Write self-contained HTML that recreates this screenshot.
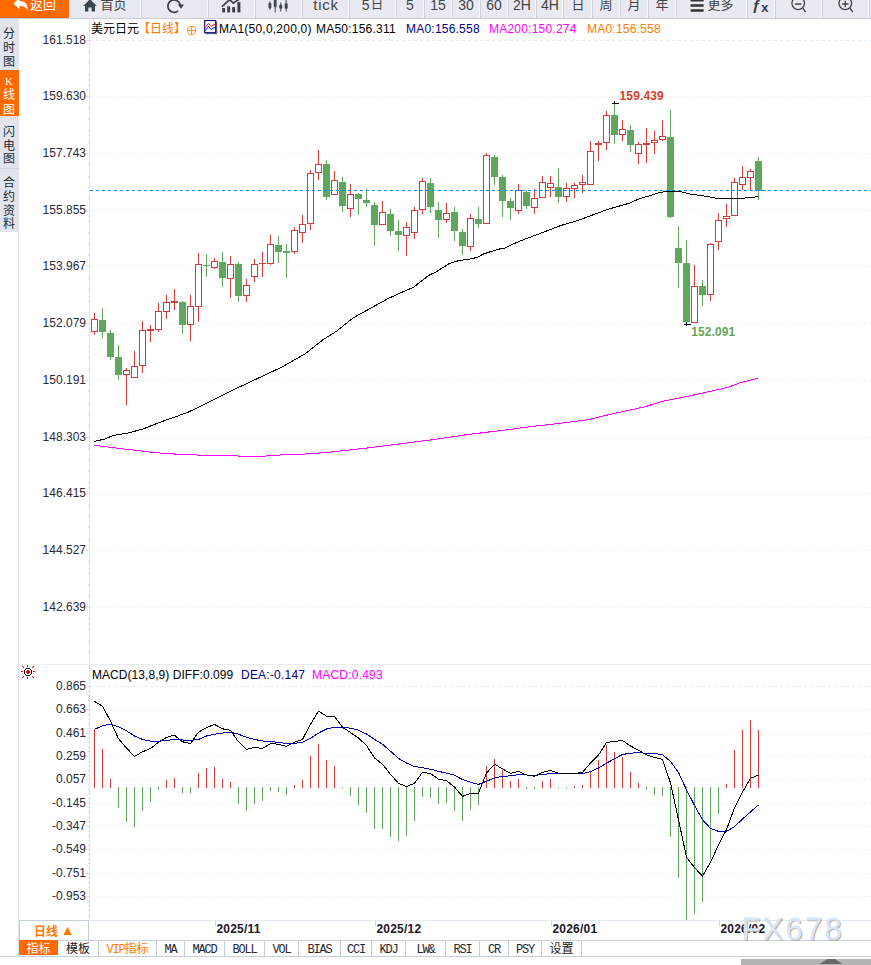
<!DOCTYPE html>
<html lang="zh-CN"><head><meta charset="utf-8"><title>美元日元 日线</title>
<style>
html,body{margin:0;padding:0;background:#fff;}
body{width:871px;height:965px;position:relative;overflow:hidden;font-family:"Liberation Sans","Noto Sans CJK SC",sans-serif;font-size:12px;color:#222;}
.abs{position:absolute;white-space:nowrap;}
.tb{position:absolute;left:0;top:0;width:871px;height:18px;background:#e9e9f1;overflow:hidden;border-bottom:1px solid #c9ccd4;}
.tb .sep{position:absolute;top:0;width:2px;height:18px;background:#f9f9fc;border-right:1px solid #cfd0da;box-sizing:border-box;}
.tb .t{position:absolute;top:-5px;height:20px;line-height:20px;font-size:14px;color:#444;text-align:center;white-space:nowrap;}
.yl{position:absolute;left:20px;width:66px;text-align:right;font-size:12px;line-height:14px;height:14px;color:#2a2a3a;}
.side{position:absolute;left:0;width:19px;padding-right:1px;text-align:center;font-size:12px;line-height:13.7px;color:#222b3a;background:#e2e4ec;font-family:"Liberation Serif","Noto Sans CJK SC",sans-serif;}
.side span{display:block;}
.info{position:absolute;top:21px;height:16px;line-height:16px;font-size:12px;white-space:nowrap;}
.ls{letter-spacing:0.22px;}
.tab{position:absolute;top:941px;height:15px;line-height:18px;font-size:12px;text-align:center;white-space:nowrap;font-family:"Liberation Mono","Noto Sans CJK SC",monospace;color:#222;border-right:1px solid #c5cfda;box-sizing:border-box;overflow:hidden;}
.tab.l{font-size:12px;letter-spacing:-1.2px;line-height:18px;color:#1f2733;}
.dt{position:absolute;top:922px;height:14px;line-height:14px;font-weight:bold;font-size:12px;letter-spacing:0.2px;color:#1a1a2a;}
</style></head><body>
<svg width="871" height="965" viewBox="0 0 871 965" style="position:absolute;left:0;top:0"><g shape-rendering="crispEdges">
<line x1="90" y1="40.5" x2="871" y2="40.5" stroke="#e3ecf3" stroke-width="1" stroke-dasharray="3,3"/>
<rect x="86" y="40" width="3" height="1" fill="#d3dbe4"/>
<line x1="90" y1="96.5" x2="871" y2="96.5" stroke="#e7eaee" stroke-width="1" stroke-dasharray="1,2"/>
<rect x="86" y="96" width="3" height="1" fill="#d3dbe4"/>
<line x1="90" y1="153.5" x2="871" y2="153.5" stroke="#e7eaee" stroke-width="1" stroke-dasharray="1,2"/>
<rect x="86" y="153" width="3" height="1" fill="#d3dbe4"/>
<line x1="90" y1="210.5" x2="871" y2="210.5" stroke="#e7eaee" stroke-width="1" stroke-dasharray="1,2"/>
<rect x="86" y="210" width="3" height="1" fill="#d3dbe4"/>
<line x1="90" y1="266.5" x2="871" y2="266.5" stroke="#e7eaee" stroke-width="1" stroke-dasharray="1,2"/>
<rect x="86" y="266" width="3" height="1" fill="#d3dbe4"/>
<line x1="90" y1="323.5" x2="871" y2="323.5" stroke="#e7eaee" stroke-width="1" stroke-dasharray="1,2"/>
<rect x="86" y="323" width="3" height="1" fill="#d3dbe4"/>
<line x1="90" y1="380.5" x2="871" y2="380.5" stroke="#e7eaee" stroke-width="1" stroke-dasharray="1,2"/>
<rect x="86" y="380" width="3" height="1" fill="#d3dbe4"/>
<line x1="90" y1="437.5" x2="871" y2="437.5" stroke="#e7eaee" stroke-width="1" stroke-dasharray="1,2"/>
<rect x="86" y="437" width="3" height="1" fill="#d3dbe4"/>
<line x1="90" y1="493.5" x2="871" y2="493.5" stroke="#e7eaee" stroke-width="1" stroke-dasharray="1,2"/>
<rect x="86" y="493" width="3" height="1" fill="#d3dbe4"/>
<line x1="90" y1="550.5" x2="871" y2="550.5" stroke="#e7eaee" stroke-width="1" stroke-dasharray="1,2"/>
<rect x="86" y="550" width="3" height="1" fill="#d3dbe4"/>
<line x1="90" y1="607.5" x2="871" y2="607.5" stroke="#e7eaee" stroke-width="1" stroke-dasharray="1,2"/>
<rect x="86" y="607" width="3" height="1" fill="#d3dbe4"/>
<rect x="88" y="51" width="1" height="1" fill="#d3dbe4"/>
<rect x="88" y="62" width="1" height="1" fill="#d3dbe4"/>
<rect x="88" y="74" width="1" height="1" fill="#d3dbe4"/>
<rect x="88" y="85" width="1" height="1" fill="#d3dbe4"/>
<rect x="88" y="108" width="1" height="1" fill="#d3dbe4"/>
<rect x="88" y="119" width="1" height="1" fill="#d3dbe4"/>
<rect x="88" y="130" width="1" height="1" fill="#d3dbe4"/>
<rect x="88" y="142" width="1" height="1" fill="#d3dbe4"/>
<rect x="88" y="164" width="1" height="1" fill="#d3dbe4"/>
<rect x="88" y="176" width="1" height="1" fill="#d3dbe4"/>
<rect x="88" y="187" width="1" height="1" fill="#d3dbe4"/>
<rect x="88" y="198" width="1" height="1" fill="#d3dbe4"/>
<rect x="88" y="221" width="1" height="1" fill="#d3dbe4"/>
<rect x="88" y="232" width="1" height="1" fill="#d3dbe4"/>
<rect x="88" y="244" width="1" height="1" fill="#d3dbe4"/>
<rect x="88" y="255" width="1" height="1" fill="#d3dbe4"/>
<rect x="88" y="278" width="1" height="1" fill="#d3dbe4"/>
<rect x="88" y="289" width="1" height="1" fill="#d3dbe4"/>
<rect x="88" y="301" width="1" height="1" fill="#d3dbe4"/>
<rect x="88" y="312" width="1" height="1" fill="#d3dbe4"/>
<rect x="88" y="335" width="1" height="1" fill="#d3dbe4"/>
<rect x="88" y="346" width="1" height="1" fill="#d3dbe4"/>
<rect x="88" y="357" width="1" height="1" fill="#d3dbe4"/>
<rect x="88" y="369" width="1" height="1" fill="#d3dbe4"/>
<rect x="88" y="391" width="1" height="1" fill="#d3dbe4"/>
<rect x="88" y="403" width="1" height="1" fill="#d3dbe4"/>
<rect x="88" y="414" width="1" height="1" fill="#d3dbe4"/>
<rect x="88" y="425" width="1" height="1" fill="#d3dbe4"/>
<rect x="88" y="448" width="1" height="1" fill="#d3dbe4"/>
<rect x="88" y="459" width="1" height="1" fill="#d3dbe4"/>
<rect x="88" y="471" width="1" height="1" fill="#d3dbe4"/>
<rect x="88" y="482" width="1" height="1" fill="#d3dbe4"/>
<rect x="88" y="505" width="1" height="1" fill="#d3dbe4"/>
<rect x="88" y="516" width="1" height="1" fill="#d3dbe4"/>
<rect x="88" y="527" width="1" height="1" fill="#d3dbe4"/>
<rect x="88" y="539" width="1" height="1" fill="#d3dbe4"/>
<rect x="88" y="561" width="1" height="1" fill="#d3dbe4"/>
<rect x="88" y="573" width="1" height="1" fill="#d3dbe4"/>
<rect x="88" y="584" width="1" height="1" fill="#d3dbe4"/>
<rect x="88" y="595" width="1" height="1" fill="#d3dbe4"/>
<rect x="88" y="618" width="1" height="1" fill="#d3dbe4"/>
<rect x="88" y="629" width="1" height="1" fill="#d3dbe4"/>
<rect x="88" y="641" width="1" height="1" fill="#d3dbe4"/>
<rect x="88" y="652" width="1" height="1" fill="#d3dbe4"/>
<rect x="89" y="18" width="1" height="903" fill="#dce4ec"/>
<rect x="18" y="232" width="1" height="724" fill="#dce4ec"/>
<rect x="19" y="664" width="852" height="1" fill="#e8edf2"/>
<line x1="90" y1="686.5" x2="871" y2="686.5" stroke="#e6ebf0" stroke-width="1" stroke-dasharray="3,3"/>
<rect x="86" y="686" width="3" height="1" fill="#d3dbe4"/>
<line x1="90" y1="709.5" x2="871" y2="709.5" stroke="#e7eaee" stroke-width="1" stroke-dasharray="1,2"/>
<rect x="86" y="709" width="3" height="1" fill="#d3dbe4"/>
<line x1="90" y1="733.5" x2="871" y2="733.5" stroke="#e7eaee" stroke-width="1" stroke-dasharray="1,2"/>
<rect x="86" y="733" width="3" height="1" fill="#d3dbe4"/>
<line x1="90" y1="756.5" x2="871" y2="756.5" stroke="#e7eaee" stroke-width="1" stroke-dasharray="1,2"/>
<rect x="86" y="756" width="3" height="1" fill="#d3dbe4"/>
<line x1="90" y1="779.5" x2="871" y2="779.5" stroke="#e7eaee" stroke-width="1" stroke-dasharray="1,2"/>
<rect x="86" y="779" width="3" height="1" fill="#d3dbe4"/>
<line x1="90" y1="803.5" x2="871" y2="803.5" stroke="#e7eaee" stroke-width="1" stroke-dasharray="1,2"/>
<rect x="86" y="803" width="3" height="1" fill="#d3dbe4"/>
<line x1="90" y1="826.5" x2="871" y2="826.5" stroke="#e7eaee" stroke-width="1" stroke-dasharray="1,2"/>
<rect x="86" y="826" width="3" height="1" fill="#d3dbe4"/>
<line x1="90" y1="849.5" x2="871" y2="849.5" stroke="#e7eaee" stroke-width="1" stroke-dasharray="1,2"/>
<rect x="86" y="849" width="3" height="1" fill="#d3dbe4"/>
<line x1="90" y1="873.5" x2="871" y2="873.5" stroke="#e7eaee" stroke-width="1" stroke-dasharray="1,2"/>
<rect x="86" y="873" width="3" height="1" fill="#d3dbe4"/>
<line x1="90" y1="896.5" x2="871" y2="896.5" stroke="#e7eaee" stroke-width="1" stroke-dasharray="1,2"/>
<rect x="86" y="896" width="3" height="1" fill="#d3dbe4"/>
<rect x="88" y="691" width="1" height="1" fill="#d3dbe4"/>
<rect x="88" y="695" width="1" height="1" fill="#d3dbe4"/>
<rect x="88" y="700" width="1" height="1" fill="#d3dbe4"/>
<rect x="88" y="705" width="1" height="1" fill="#d3dbe4"/>
<rect x="88" y="714" width="1" height="1" fill="#d3dbe4"/>
<rect x="88" y="719" width="1" height="1" fill="#d3dbe4"/>
<rect x="88" y="723" width="1" height="1" fill="#d3dbe4"/>
<rect x="88" y="728" width="1" height="1" fill="#d3dbe4"/>
<rect x="88" y="737" width="1" height="1" fill="#d3dbe4"/>
<rect x="88" y="742" width="1" height="1" fill="#d3dbe4"/>
<rect x="88" y="747" width="1" height="1" fill="#d3dbe4"/>
<rect x="88" y="751" width="1" height="1" fill="#d3dbe4"/>
<rect x="88" y="761" width="1" height="1" fill="#d3dbe4"/>
<rect x="88" y="765" width="1" height="1" fill="#d3dbe4"/>
<rect x="88" y="770" width="1" height="1" fill="#d3dbe4"/>
<rect x="88" y="775" width="1" height="1" fill="#d3dbe4"/>
<rect x="88" y="784" width="1" height="1" fill="#d3dbe4"/>
<rect x="88" y="789" width="1" height="1" fill="#d3dbe4"/>
<rect x="88" y="793" width="1" height="1" fill="#d3dbe4"/>
<rect x="88" y="798" width="1" height="1" fill="#d3dbe4"/>
<rect x="88" y="807" width="1" height="1" fill="#d3dbe4"/>
<rect x="88" y="812" width="1" height="1" fill="#d3dbe4"/>
<rect x="88" y="817" width="1" height="1" fill="#d3dbe4"/>
<rect x="88" y="821" width="1" height="1" fill="#d3dbe4"/>
<rect x="88" y="831" width="1" height="1" fill="#d3dbe4"/>
<rect x="88" y="835" width="1" height="1" fill="#d3dbe4"/>
<rect x="88" y="840" width="1" height="1" fill="#d3dbe4"/>
<rect x="88" y="845" width="1" height="1" fill="#d3dbe4"/>
<rect x="88" y="854" width="1" height="1" fill="#d3dbe4"/>
<rect x="88" y="859" width="1" height="1" fill="#d3dbe4"/>
<rect x="88" y="863" width="1" height="1" fill="#d3dbe4"/>
<rect x="88" y="868" width="1" height="1" fill="#d3dbe4"/>
<rect x="88" y="877" width="1" height="1" fill="#d3dbe4"/>
<rect x="88" y="882" width="1" height="1" fill="#d3dbe4"/>
<rect x="88" y="887" width="1" height="1" fill="#d3dbe4"/>
<rect x="88" y="891" width="1" height="1" fill="#d3dbe4"/>
<rect x="88" y="901" width="1" height="1" fill="#d3dbe4"/>
<rect x="88" y="905" width="1" height="1" fill="#d3dbe4"/>
<rect x="88" y="910" width="1" height="1" fill="#d3dbe4"/>
<rect x="88" y="915" width="1" height="1" fill="#d3dbe4"/>
<rect x="94" y="313" width="1" height="22" fill="#d03c38"/>
<rect x="91" y="319" width="7" height="13" fill="#d03c38"/>
<rect x="92" y="320" width="5" height="11" fill="#fff"/>
<rect x="102" y="308" width="1" height="30" fill="#60a65c"/>
<rect x="99" y="320" width="7" height="12" fill="#60a65c"/>
<rect x="110" y="330" width="1" height="30" fill="#60a65c"/>
<rect x="107" y="333" width="7" height="24" fill="#60a65c"/>
<rect x="118" y="345" width="1" height="35" fill="#60a65c"/>
<rect x="115" y="357" width="7" height="18" fill="#60a65c"/>
<rect x="126" y="368" width="1" height="37" fill="#d03c38"/>
<rect x="123" y="370" width="7" height="5" fill="#d03c38"/>
<rect x="124" y="371" width="5" height="3" fill="#fff"/>
<rect x="134" y="351" width="1" height="27" fill="#d03c38"/>
<rect x="131" y="366" width="7" height="12" fill="#d03c38"/>
<rect x="132" y="367" width="5" height="10" fill="#fff"/>
<rect x="142" y="321" width="1" height="52" fill="#d03c38"/>
<rect x="139" y="330" width="7" height="36" fill="#d03c38"/>
<rect x="140" y="331" width="5" height="34" fill="#fff"/>
<rect x="150" y="325" width="1" height="17" fill="#d03c38"/>
<rect x="147" y="329" width="7" height="2" fill="#d03c38"/>
<rect x="158" y="303" width="1" height="29" fill="#d03c38"/>
<rect x="155" y="311" width="7" height="19" fill="#d03c38"/>
<rect x="156" y="312" width="5" height="17" fill="#fff"/>
<rect x="166" y="295" width="1" height="24" fill="#d03c38"/>
<rect x="163" y="302" width="7" height="10" fill="#d03c38"/>
<rect x="164" y="303" width="5" height="8" fill="#fff"/>
<rect x="174" y="289" width="1" height="21" fill="#d03c38"/>
<rect x="171" y="301" width="7" height="2" fill="#d03c38"/>
<rect x="182" y="301" width="1" height="33" fill="#60a65c"/>
<rect x="179" y="302" width="7" height="23" fill="#60a65c"/>
<rect x="190" y="295" width="1" height="46" fill="#d03c38"/>
<rect x="187" y="306" width="7" height="19" fill="#d03c38"/>
<rect x="188" y="307" width="5" height="17" fill="#fff"/>
<rect x="198" y="253" width="1" height="69" fill="#d03c38"/>
<rect x="195" y="264" width="7" height="43" fill="#d03c38"/>
<rect x="196" y="265" width="5" height="41" fill="#fff"/>
<rect x="206" y="254" width="1" height="23" fill="#60a65c"/>
<rect x="203" y="265" width="7" height="1" fill="#60a65c"/>
<rect x="214" y="258" width="1" height="11" fill="#d03c38"/>
<rect x="211" y="261" width="7" height="7" fill="#d03c38"/>
<rect x="212" y="262" width="5" height="5" fill="#fff"/>
<rect x="222" y="252" width="1" height="35" fill="#60a65c"/>
<rect x="219" y="262" width="7" height="16" fill="#60a65c"/>
<rect x="230" y="256" width="1" height="42" fill="#d03c38"/>
<rect x="227" y="264" width="7" height="15" fill="#d03c38"/>
<rect x="228" y="265" width="5" height="13" fill="#fff"/>
<rect x="238" y="262" width="1" height="40" fill="#60a65c"/>
<rect x="235" y="264" width="7" height="32" fill="#60a65c"/>
<rect x="246" y="279" width="1" height="23" fill="#d03c38"/>
<rect x="243" y="285" width="7" height="11" fill="#d03c38"/>
<rect x="244" y="286" width="5" height="9" fill="#fff"/>
<rect x="254" y="259" width="1" height="23" fill="#d03c38"/>
<rect x="251" y="264" width="7" height="13" fill="#d03c38"/>
<rect x="252" y="265" width="5" height="11" fill="#fff"/>
<rect x="262" y="252" width="1" height="25" fill="#d03c38"/>
<rect x="259" y="263" width="7" height="1" fill="#d03c38"/>
<rect x="270" y="235" width="1" height="30" fill="#d03c38"/>
<rect x="267" y="244" width="7" height="20" fill="#d03c38"/>
<rect x="268" y="245" width="5" height="18" fill="#fff"/>
<rect x="278" y="236" width="1" height="27" fill="#60a65c"/>
<rect x="275" y="245" width="7" height="7" fill="#60a65c"/>
<rect x="286" y="244" width="1" height="34" fill="#60a65c"/>
<rect x="283" y="251" width="7" height="2" fill="#60a65c"/>
<rect x="294" y="227" width="1" height="27" fill="#d03c38"/>
<rect x="291" y="230" width="7" height="22" fill="#d03c38"/>
<rect x="292" y="231" width="5" height="20" fill="#fff"/>
<rect x="302" y="215" width="1" height="28" fill="#d03c38"/>
<rect x="299" y="224" width="7" height="9" fill="#d03c38"/>
<rect x="300" y="225" width="5" height="7" fill="#fff"/>
<rect x="310" y="170" width="1" height="60" fill="#d03c38"/>
<rect x="307" y="173" width="7" height="51" fill="#d03c38"/>
<rect x="308" y="174" width="5" height="49" fill="#fff"/>
<rect x="318" y="150" width="1" height="30" fill="#d03c38"/>
<rect x="315" y="164" width="7" height="9" fill="#d03c38"/>
<rect x="316" y="165" width="5" height="7" fill="#fff"/>
<rect x="326" y="160" width="1" height="40" fill="#60a65c"/>
<rect x="323" y="164" width="7" height="33" fill="#60a65c"/>
<rect x="334" y="171" width="1" height="24" fill="#d03c38"/>
<rect x="331" y="180" width="7" height="15" fill="#d03c38"/>
<rect x="332" y="181" width="5" height="13" fill="#fff"/>
<rect x="342" y="177" width="1" height="35" fill="#60a65c"/>
<rect x="339" y="182" width="7" height="24" fill="#60a65c"/>
<rect x="350" y="184" width="1" height="33" fill="#d03c38"/>
<rect x="347" y="194" width="7" height="15" fill="#d03c38"/>
<rect x="348" y="195" width="5" height="13" fill="#fff"/>
<rect x="358" y="193" width="1" height="22" fill="#60a65c"/>
<rect x="355" y="194" width="7" height="5" fill="#60a65c"/>
<rect x="366" y="189" width="1" height="18" fill="#60a65c"/>
<rect x="363" y="200" width="7" height="3" fill="#60a65c"/>
<rect x="374" y="202" width="1" height="44" fill="#60a65c"/>
<rect x="371" y="205" width="7" height="20" fill="#60a65c"/>
<rect x="382" y="201" width="1" height="24" fill="#d03c38"/>
<rect x="379" y="212" width="7" height="13" fill="#d03c38"/>
<rect x="380" y="213" width="5" height="11" fill="#fff"/>
<rect x="390" y="209" width="1" height="27" fill="#60a65c"/>
<rect x="387" y="214" width="7" height="17" fill="#60a65c"/>
<rect x="398" y="220" width="1" height="31" fill="#60a65c"/>
<rect x="395" y="231" width="7" height="4" fill="#60a65c"/>
<rect x="406" y="222" width="1" height="34" fill="#d03c38"/>
<rect x="403" y="227" width="7" height="9" fill="#d03c38"/>
<rect x="404" y="228" width="5" height="7" fill="#fff"/>
<rect x="414" y="207" width="1" height="32" fill="#d03c38"/>
<rect x="411" y="210" width="7" height="23" fill="#d03c38"/>
<rect x="412" y="211" width="5" height="21" fill="#fff"/>
<rect x="422" y="178" width="1" height="36" fill="#d03c38"/>
<rect x="419" y="181" width="7" height="29" fill="#d03c38"/>
<rect x="420" y="182" width="5" height="27" fill="#fff"/>
<rect x="430" y="178" width="1" height="35" fill="#60a65c"/>
<rect x="427" y="183" width="7" height="24" fill="#60a65c"/>
<rect x="438" y="202" width="1" height="36" fill="#60a65c"/>
<rect x="435" y="210" width="7" height="10" fill="#60a65c"/>
<rect x="446" y="203" width="1" height="20" fill="#d03c38"/>
<rect x="443" y="213" width="7" height="7" fill="#d03c38"/>
<rect x="444" y="214" width="5" height="5" fill="#fff"/>
<rect x="454" y="207" width="1" height="34" fill="#60a65c"/>
<rect x="451" y="212" width="7" height="19" fill="#60a65c"/>
<rect x="462" y="229" width="1" height="26" fill="#60a65c"/>
<rect x="459" y="232" width="7" height="14" fill="#60a65c"/>
<rect x="470" y="214" width="1" height="37" fill="#d03c38"/>
<rect x="467" y="218" width="7" height="29" fill="#d03c38"/>
<rect x="468" y="219" width="5" height="27" fill="#fff"/>
<rect x="478" y="207" width="1" height="21" fill="#60a65c"/>
<rect x="475" y="219" width="7" height="5" fill="#60a65c"/>
<rect x="486" y="153" width="1" height="71" fill="#d03c38"/>
<rect x="483" y="155" width="7" height="69" fill="#d03c38"/>
<rect x="484" y="156" width="5" height="67" fill="#fff"/>
<rect x="494" y="155" width="1" height="30" fill="#60a65c"/>
<rect x="491" y="157" width="7" height="20" fill="#60a65c"/>
<rect x="502" y="175" width="1" height="42" fill="#60a65c"/>
<rect x="499" y="177" width="7" height="24" fill="#60a65c"/>
<rect x="510" y="198" width="1" height="22" fill="#60a65c"/>
<rect x="507" y="201" width="7" height="7" fill="#60a65c"/>
<rect x="518" y="184" width="1" height="30" fill="#d03c38"/>
<rect x="515" y="190" width="7" height="21" fill="#d03c38"/>
<rect x="516" y="191" width="5" height="19" fill="#fff"/>
<rect x="526" y="190" width="1" height="19" fill="#60a65c"/>
<rect x="523" y="192" width="7" height="14" fill="#60a65c"/>
<rect x="534" y="189" width="1" height="25" fill="#d03c38"/>
<rect x="531" y="198" width="7" height="10" fill="#d03c38"/>
<rect x="532" y="199" width="5" height="8" fill="#fff"/>
<rect x="542" y="176" width="1" height="22" fill="#d03c38"/>
<rect x="539" y="182" width="7" height="16" fill="#d03c38"/>
<rect x="540" y="183" width="5" height="14" fill="#fff"/>
<rect x="550" y="176" width="1" height="21" fill="#d03c38"/>
<rect x="547" y="183" width="7" height="5" fill="#d03c38"/>
<rect x="548" y="184" width="5" height="3" fill="#fff"/>
<rect x="558" y="168" width="1" height="35" fill="#60a65c"/>
<rect x="555" y="187" width="7" height="10" fill="#60a65c"/>
<rect x="566" y="183" width="1" height="19" fill="#d03c38"/>
<rect x="563" y="188" width="7" height="9" fill="#d03c38"/>
<rect x="564" y="189" width="5" height="7" fill="#fff"/>
<rect x="574" y="183" width="1" height="15" fill="#d03c38"/>
<rect x="571" y="185" width="7" height="4" fill="#d03c38"/>
<rect x="572" y="186" width="5" height="2" fill="#fff"/>
<rect x="582" y="175" width="1" height="18" fill="#d03c38"/>
<rect x="579" y="182" width="7" height="3" fill="#d03c38"/>
<rect x="580" y="183" width="5" height="1" fill="#fff"/>
<rect x="590" y="141" width="1" height="44" fill="#d03c38"/>
<rect x="587" y="151" width="7" height="34" fill="#d03c38"/>
<rect x="588" y="152" width="5" height="32" fill="#fff"/>
<rect x="598" y="141" width="1" height="20" fill="#d03c38"/>
<rect x="595" y="143" width="7" height="2" fill="#d03c38"/>
<rect x="606" y="111" width="1" height="39" fill="#d03c38"/>
<rect x="603" y="115" width="7" height="28" fill="#d03c38"/>
<rect x="604" y="116" width="5" height="26" fill="#fff"/>
<rect x="614" y="103" width="1" height="41" fill="#60a65c"/>
<rect x="611" y="115" width="7" height="20" fill="#60a65c"/>
<rect x="622" y="120" width="1" height="21" fill="#d03c38"/>
<rect x="619" y="129" width="7" height="6" fill="#d03c38"/>
<rect x="620" y="130" width="5" height="4" fill="#fff"/>
<rect x="630" y="125" width="1" height="27" fill="#60a65c"/>
<rect x="627" y="130" width="7" height="15" fill="#60a65c"/>
<rect x="638" y="142" width="1" height="22" fill="#d03c38"/>
<rect x="635" y="144" width="7" height="10" fill="#d03c38"/>
<rect x="636" y="145" width="5" height="8" fill="#fff"/>
<rect x="646" y="128" width="1" height="35" fill="#d03c38"/>
<rect x="643" y="143" width="7" height="2" fill="#d03c38"/>
<rect x="654" y="131" width="1" height="23" fill="#d03c38"/>
<rect x="651" y="140" width="7" height="3" fill="#d03c38"/>
<rect x="652" y="141" width="5" height="1" fill="#fff"/>
<rect x="662" y="120" width="1" height="21" fill="#d03c38"/>
<rect x="659" y="136" width="7" height="4" fill="#d03c38"/>
<rect x="660" y="137" width="5" height="2" fill="#fff"/>
<rect x="670" y="110" width="1" height="108" fill="#60a65c"/>
<rect x="667" y="137" width="7" height="80" fill="#60a65c"/>
<rect x="678" y="226" width="1" height="62" fill="#60a65c"/>
<rect x="675" y="248" width="7" height="15" fill="#60a65c"/>
<rect x="686" y="240" width="1" height="85" fill="#60a65c"/>
<rect x="683" y="263" width="7" height="59" fill="#60a65c"/>
<rect x="694" y="265" width="1" height="58" fill="#d03c38"/>
<rect x="691" y="286" width="7" height="37" fill="#d03c38"/>
<rect x="692" y="287" width="5" height="35" fill="#fff"/>
<rect x="702" y="280" width="1" height="26" fill="#60a65c"/>
<rect x="699" y="286" width="7" height="9" fill="#60a65c"/>
<rect x="710" y="243" width="1" height="58" fill="#d03c38"/>
<rect x="707" y="244" width="7" height="51" fill="#d03c38"/>
<rect x="708" y="245" width="5" height="49" fill="#fff"/>
<rect x="718" y="213" width="1" height="37" fill="#d03c38"/>
<rect x="715" y="220" width="7" height="22" fill="#d03c38"/>
<rect x="716" y="221" width="5" height="20" fill="#fff"/>
<rect x="726" y="204" width="1" height="23" fill="#d03c38"/>
<rect x="723" y="216" width="7" height="3" fill="#d03c38"/>
<rect x="724" y="217" width="5" height="1" fill="#fff"/>
<rect x="734" y="178" width="1" height="38" fill="#d03c38"/>
<rect x="731" y="182" width="7" height="34" fill="#d03c38"/>
<rect x="732" y="183" width="5" height="32" fill="#fff"/>
<rect x="742" y="166" width="1" height="24" fill="#d03c38"/>
<rect x="739" y="177" width="7" height="8" fill="#d03c38"/>
<rect x="740" y="178" width="5" height="6" fill="#fff"/>
<rect x="750" y="169" width="1" height="22" fill="#d03c38"/>
<rect x="747" y="171" width="7" height="7" fill="#d03c38"/>
<rect x="748" y="172" width="5" height="5" fill="#fff"/>
<rect x="758" y="157" width="1" height="43" fill="#60a65c"/>
<rect x="755" y="161" width="7" height="30" fill="#60a65c"/>
<rect x="94" y="729" width="1" height="59" fill="#d03c38"/>
<rect x="102" y="749" width="1" height="39" fill="#d03c38"/>
<rect x="110" y="779" width="1" height="9" fill="#d03c38"/>
<rect x="118" y="787" width="1" height="21" fill="#60a65c"/>
<rect x="126" y="787" width="1" height="35" fill="#60a65c"/>
<rect x="134" y="787" width="1" height="40" fill="#60a65c"/>
<rect x="142" y="787" width="1" height="24" fill="#60a65c"/>
<rect x="150" y="787" width="1" height="15" fill="#60a65c"/>
<rect x="158" y="787" width="1" height="3" fill="#60a65c"/>
<rect x="166" y="780" width="1" height="8" fill="#d03c38"/>
<rect x="174" y="778" width="1" height="10" fill="#d03c38"/>
<rect x="182" y="787" width="1" height="6" fill="#60a65c"/>
<rect x="190" y="787" width="1" height="6" fill="#60a65c"/>
<rect x="198" y="773" width="1" height="15" fill="#d03c38"/>
<rect x="206" y="768" width="1" height="20" fill="#d03c38"/>
<rect x="214" y="767" width="1" height="21" fill="#d03c38"/>
<rect x="222" y="779" width="1" height="9" fill="#d03c38"/>
<rect x="230" y="782" width="1" height="6" fill="#d03c38"/>
<rect x="238" y="787" width="1" height="17" fill="#60a65c"/>
<rect x="246" y="787" width="1" height="24" fill="#60a65c"/>
<rect x="254" y="787" width="1" height="17" fill="#60a65c"/>
<rect x="262" y="787" width="1" height="14" fill="#60a65c"/>
<rect x="270" y="787" width="1" height="4" fill="#60a65c"/>
<rect x="278" y="787" width="1" height="5" fill="#60a65c"/>
<rect x="286" y="787" width="1" height="8" fill="#60a65c"/>
<rect x="294" y="785" width="1" height="3" fill="#d03c38"/>
<rect x="302" y="780" width="1" height="8" fill="#d03c38"/>
<rect x="310" y="756" width="1" height="32" fill="#d03c38"/>
<rect x="318" y="744" width="1" height="44" fill="#d03c38"/>
<rect x="326" y="760" width="1" height="28" fill="#d03c38"/>
<rect x="334" y="766" width="1" height="22" fill="#d03c38"/>
<rect x="342" y="787" width="1" height="1" fill="#60a65c"/>
<rect x="350" y="787" width="1" height="9" fill="#60a65c"/>
<rect x="358" y="787" width="1" height="18" fill="#60a65c"/>
<rect x="366" y="787" width="1" height="26" fill="#60a65c"/>
<rect x="374" y="787" width="1" height="42" fill="#60a65c"/>
<rect x="382" y="787" width="1" height="42" fill="#60a65c"/>
<rect x="390" y="787" width="1" height="50" fill="#60a65c"/>
<rect x="398" y="787" width="1" height="54" fill="#60a65c"/>
<rect x="406" y="787" width="1" height="49" fill="#60a65c"/>
<rect x="414" y="787" width="1" height="34" fill="#60a65c"/>
<rect x="422" y="787" width="1" height="10" fill="#60a65c"/>
<rect x="430" y="787" width="1" height="11" fill="#60a65c"/>
<rect x="438" y="787" width="1" height="17" fill="#60a65c"/>
<rect x="446" y="787" width="1" height="16" fill="#60a65c"/>
<rect x="454" y="787" width="1" height="24" fill="#60a65c"/>
<rect x="462" y="787" width="1" height="34" fill="#60a65c"/>
<rect x="470" y="787" width="1" height="23" fill="#60a65c"/>
<rect x="478" y="787" width="1" height="18" fill="#60a65c"/>
<rect x="486" y="766" width="1" height="22" fill="#d03c38"/>
<rect x="494" y="759" width="1" height="29" fill="#d03c38"/>
<rect x="502" y="770" width="1" height="18" fill="#d03c38"/>
<rect x="510" y="781" width="1" height="7" fill="#d03c38"/>
<rect x="518" y="779" width="1" height="9" fill="#d03c38"/>
<rect x="526" y="787" width="1" height="2" fill="#60a65c"/>
<rect x="534" y="787" width="1" height="2" fill="#60a65c"/>
<rect x="542" y="781" width="1" height="7" fill="#d03c38"/>
<rect x="550" y="779" width="1" height="9" fill="#d03c38"/>
<rect x="558" y="787" width="1" height="1" fill="#60a65c"/>
<rect x="566" y="787" width="1" height="1" fill="#60a65c"/>
<rect x="574" y="786" width="1" height="2" fill="#d03c38"/>
<rect x="582" y="785" width="1" height="3" fill="#d03c38"/>
<rect x="590" y="771" width="1" height="17" fill="#d03c38"/>
<rect x="598" y="760" width="1" height="28" fill="#d03c38"/>
<rect x="606" y="745" width="1" height="43" fill="#d03c38"/>
<rect x="614" y="752" width="1" height="36" fill="#d03c38"/>
<rect x="622" y="757" width="1" height="31" fill="#d03c38"/>
<rect x="630" y="772" width="1" height="16" fill="#d03c38"/>
<rect x="638" y="783" width="1" height="5" fill="#d03c38"/>
<rect x="646" y="787" width="1" height="3" fill="#60a65c"/>
<rect x="654" y="787" width="1" height="8" fill="#60a65c"/>
<rect x="662" y="787" width="1" height="9" fill="#60a65c"/>
<rect x="670" y="787" width="1" height="50" fill="#60a65c"/>
<rect x="678" y="787" width="1" height="91" fill="#60a65c"/>
<rect x="686" y="787" width="1" height="133" fill="#60a65c"/>
<rect x="694" y="787" width="1" height="127" fill="#60a65c"/>
<rect x="702" y="787" width="1" height="115" fill="#60a65c"/>
<rect x="710" y="787" width="1" height="72" fill="#60a65c"/>
<rect x="718" y="787" width="1" height="27" fill="#60a65c"/>
<rect x="726" y="784" width="1" height="4" fill="#d03c38"/>
<rect x="734" y="750" width="1" height="38" fill="#d03c38"/>
<rect x="742" y="730" width="1" height="58" fill="#d03c38"/>
<rect x="750" y="720" width="1" height="68" fill="#d03c38"/>
<rect x="758" y="730" width="1" height="58" fill="#d03c38"/>
<line x1="90" y1="190.5" x2="871" y2="190.5" stroke="#1b86f2" stroke-width="1" stroke-dasharray="3,3"/>
<rect x="612" y="103" width="7" height="1" fill="#000"/>
<rect x="614" y="101" width="1" height="3" fill="#000"/>
<rect x="684" y="324" width="7" height="1" fill="#000"/>
<rect x="686" y="322" width="1" height="4" fill="#000"/>
<rect x="26" y="668" width="4" height="1" fill="#000"/>
<rect x="25" y="669" width="1" height="1" fill="#000"/>
<rect x="30" y="669" width="1" height="1" fill="#000"/>
<rect x="24" y="670" width="1" height="4" fill="#000"/>
<rect x="31" y="670" width="1" height="4" fill="#000"/>
<rect x="25" y="674" width="1" height="1" fill="#000"/>
<rect x="30" y="674" width="1" height="1" fill="#000"/>
<rect x="26" y="675" width="4" height="1" fill="#000"/>
<rect x="27" y="670" width="2" height="4" fill="#ff0000"/>
<rect x="26" y="671" width="4" height="2" fill="#ff0000"/>
<rect x="27" y="665" width="1" height="2" fill="#ff0000"/>
<rect x="27" y="677" width="1" height="2" fill="#ff0000"/>
<rect x="21" y="671" width="2" height="1" fill="#ff0000"/>
<rect x="33" y="671" width="2" height="1" fill="#ff0000"/>
<rect x="22" y="666" width="1" height="1" fill="#ff0000"/>
<rect x="23" y="667" width="1" height="1" fill="#ff0000"/>
<rect x="33" y="666" width="1" height="1" fill="#ff0000"/>
<rect x="32" y="667" width="1" height="1" fill="#ff0000"/>
<rect x="23" y="676" width="1" height="1" fill="#ff0000"/>
<rect x="22" y="677" width="1" height="1" fill="#ff0000"/>
<rect x="32" y="676" width="1" height="1" fill="#ff0000"/>
<rect x="33" y="677" width="1" height="1" fill="#ff0000"/>
</g>
<polyline points="94.3,441.5 104.7,439.0 113.0,435.5 128.0,433.0 143.0,429.0 158.0,423.0 188.0,412.3 204.8,404.0 233.0,390.0 282.0,367.0 305.4,353.7 322.6,340.0 336.4,331.3 353.6,317.6 367.4,310.0 388.0,298.6 407.0,290.0 413.0,287.6 429.0,275.2 436.0,272.0 440.0,269.4 449.2,263.6 458.4,260.7 470.3,259.0 476.7,257.5 484.0,253.8 498.7,249.1 503.7,248.5 518.8,241.5 532.1,236.5 548.8,230.1 560.5,225.6 576.3,221.0 608.0,209.3 629.7,203.1 638.0,199.3 658.0,193.1 668.0,191.1 678.0,191.1 691.5,194.3 706.7,196.4 715.0,198.0 745.0,198.0 758.5,196.7" fill="none" stroke="#000" stroke-width="1" stroke-linejoin="round" shape-rendering="crispEdges"/>
<polyline points="94.3,445.2 113.3,447.7 131.0,449.8 148.6,452.0 163.8,453.3 179.0,454.3 204.2,455.3 242.0,456.1 264.8,456.1 282.5,454.8 300.0,454.4 328.0,452.3 355.0,449.4 369.4,447.7 410.7,442.5 430.0,440.0 465.3,434.9 512.7,429.0 540.0,425.5 554.0,424.0 587.0,419.9 616.0,413.0 645.0,406.8 661.5,401.5 690.4,395.7 727.6,387.5 739.4,383.0 757.8,378.3" fill="none" stroke="#ff00ff" stroke-width="1" stroke-linejoin="round" shape-rendering="crispEdges"/>
<polyline points="94.5,729.4 102.5,725.7 110.5,724.2 118.5,726.9 126.5,730.9 134.5,736.0 142.5,739.4 150.5,741.2 158.5,741.2 166.5,740.4 174.5,739.4 182.5,740.0 190.5,740.4 198.5,739.4 206.5,736.0 214.5,734.2 222.5,733.1 230.5,732.3 238.5,734.2 246.5,737.3 254.5,739.4 262.5,741.0 270.5,741.4 278.5,742.5 286.5,743.5 294.5,743.3 302.5,742.3 310.5,738.3 318.5,733.1 326.5,729.0 334.5,727.3 342.5,727.3 350.5,728.2 358.5,730.2 366.5,734.0 374.5,739.4 382.5,744.3 390.5,751.2 398.5,758.4 406.5,763.0 414.5,766.5 422.5,767.8 430.5,769.2 438.5,771.3 446.5,773.2 454.5,775.2 462.5,779.6 470.5,782.3 478.5,784.4 486.5,781.2 494.5,778.1 502.5,776.3 510.5,775.9 518.5,774.6 526.5,775.0 534.5,775.4 542.5,774.6 550.5,773.6 558.5,773.6 566.5,773.6 574.5,773.6 582.5,773.6 590.5,771.5 598.5,768.0 606.5,763.2 614.5,758.7 622.5,754.5 630.5,753.2 638.5,752.5 646.5,753.4 654.5,753.4 662.5,754.8 670.5,761.5 678.5,772.5 686.5,789.8 694.5,805.4 702.5,819.7 710.5,828.4 718.5,831.4 726.5,831.4 734.5,826.6 742.5,819.0 750.5,811.9 758.5,805.0" fill="none" stroke="#0000b0" stroke-width="1" stroke-linejoin="round" shape-rendering="crispEdges"/>
<polyline points="94.5,701.4 102.5,706.2 110.5,721.1 118.5,738.7 126.5,748.1 134.5,756.4 142.5,751.8 150.5,748.5 158.5,742.3 166.5,737.3 174.5,735.2 182.5,741.8 190.5,743.5 198.5,732.1 206.5,727.7 214.5,724.4 222.5,728.8 230.5,730.4 238.5,741.8 246.5,749.3 254.5,747.4 262.5,748.5 270.5,743.5 278.5,744.3 286.5,746.4 294.5,742.3 302.5,739.4 310.5,724.2 318.5,711.2 326.5,716.1 334.5,716.3 342.5,727.3 350.5,732.5 358.5,738.1 366.5,745.4 374.5,758.0 382.5,764.2 390.5,774.4 398.5,783.3 406.5,786.6 414.5,783.3 422.5,772.3 430.5,773.6 438.5,779.2 446.5,780.6 454.5,787.1 462.5,796.4 470.5,793.3 478.5,793.1 486.5,773.0 494.5,764.2 502.5,768.8 510.5,773.4 518.5,771.3 526.5,775.0 534.5,776.3 542.5,772.3 550.5,770.3 558.5,773.4 566.5,773.6 574.5,773.6 582.5,772.3 590.5,763.0 598.5,755.1 606.5,742.5 614.5,741.4 622.5,740.5 630.5,746.0 638.5,750.2 646.5,754.8 654.5,757.5 662.5,759.4 670.5,782.9 678.5,819.7 686.5,857.2 694.5,867.6 702.5,876.1 710.5,862.3 718.5,845.0 726.5,829.6 734.5,807.7 742.5,792.1 750.5,778.3 758.5,775.0" fill="none" stroke="#000" stroke-width="1" stroke-linejoin="round" shape-rendering="crispEdges"/></svg>
<div class="tb">
<div style="position:absolute;left:0;top:0;width:69px;height:18px;background:#ff6a00"></div>
<div style="position:absolute;left:69px;top:0;width:1px;height:18px;background:#fff"></div>
<div class="sep" style="left:140px"></div>
<div class="sep" style="left:207px"></div>
<div class="sep" style="left:254px"></div>
<div class="sep" style="left:301px"></div>
<div class="sep" style="left:348px"></div>
<div class="sep" style="left:395px"></div>
<div class="sep" style="left:423px"></div>
<div class="sep" style="left:451px"></div>
<div class="sep" style="left:479px"></div>
<div class="sep" style="left:507px"></div>
<div class="sep" style="left:535px"></div>
<div class="sep" style="left:562px"></div>
<div class="sep" style="left:591px"></div>
<div class="sep" style="left:619px"></div>
<div class="sep" style="left:647px"></div>
<div class="sep" style="left:675px"></div>
<div class="sep" style="left:746px"></div>
<div class="sep" style="left:774px"></div>
<div class="sep" style="left:821px"></div>
<div class="sep" style="left:868px"></div>
<div class="t" style="left:28px;width:30px;color:#fff;font-size:13px;top:-5.5px;">返回</div>
<div class="t" style="left:99px;width:29px;font-size:13px;top:-5.5px;">首页</div>
<div class="t" style="left:304px;width:43px;font-size:15px;top:-4.6px;letter-spacing:0.7px;left:304.5px;">tick</div>
<div class="t" style="left:351px;width:43px;">5<span style="font-size:12.5px;position:relative;top:-0.8px;margin-left:1px">日</span></div>
<div class="t" style="left:398px;width:24px;">5</div>
<div class="t" style="left:426px;width:24px;">15</div>
<div class="t" style="left:454px;width:24px;">30</div>
<div class="t" style="left:482px;width:24px;">60</div>
<div class="t" style="left:510px;width:24px;">2H</div>
<div class="t" style="left:538px;width:24px;">4H</div>
<div class="t" style="left:566px;width:24px;font-size:13px;top:-5.5px;">日</div>
<div class="t" style="left:594px;width:24px;font-size:13px;top:-5.5px;">周</div>
<div class="t" style="left:622px;width:24px;font-size:13px;top:-5.5px;">月</div>
<div class="t" style="left:650px;width:24px;font-size:13px;top:-5.5px;">年</div>
<div class="t" style="left:705px;width:31px;font-size:13px;top:-5.5px;">更多</div>
<svg class="abs" style="left:0;top:0" width="871" height="18" viewBox="0 0 871 18">
<path d="M13.5 3.5 L19.5 -2.5 L19.5 1 C25.5 1 28 4.5 27.5 10.5 C26 7 23.5 6 19.5 6 L19.5 9.5 Z" fill="#fff"/>
<path d="M83.2 6 L90 -0.8 L96.8 6 L95 6 L95 11.6 L91.6 11.6 L91.6 7.6 L88.4 7.6 L88.4 11.6 L85 11.6 L85 6 Z" fill="#3a4550"/>
<path d="M178.1 10.85 A6.2 6.2 0 1 1 180.2 5.0" fill="none" stroke="#3a3f48" stroke-width="1.7"/>
<path d="M177.9 4.5 L184 4.5 L181 8.7 Z" fill="#3a3f48"/>
<g fill="#3a3f48"><rect x="222.2" y="8" width="2.9" height="4.4"/><rect x="227.2" y="6.3" width="2.9" height="6.1"/><rect x="232.2" y="7.1" width="2.9" height="5.3"/><rect x="237.4" y="2.1" width="3" height="10.3"/></g>
<path d="M222 6.6 L229.6 -0.3 L233.3 3.2 L240 -1.4" fill="none" stroke="#3a3f48" stroke-width="1.8"/>
<g fill="#3f4650"><rect x="268.5" y="2.9" width="2.8" height="5.5" rx="0.8"/><rect x="269.4" y="1.4" width="1" height="8.4"/>
<rect x="273.8" y="-1" width="2.8" height="8.2" rx="0.8"/><rect x="274.7" y="-2" width="1" height="14.5"/>
<rect x="279.3" y="4.8" width="2.9" height="4" rx="0.8"/><rect x="280.3" y="2.4" width="1" height="9.2"/>
<rect x="284.7" y="3.2" width="3" height="5.6" rx="0.8"/><rect x="285.7" y="-1" width="1" height="12.6"/></g>
<g fill="#333"><rect x="690.5" y="-1" width="13.2" height="2.4" rx="0.6"/><rect x="690.5" y="4.3" width="13.2" height="2.4" rx="0.6"/><rect x="690.5" y="9.3" width="13.2" height="2.4" rx="0.6"/></g>
<circle cx="798.2" cy="3.3" r="6.3" fill="none" stroke="#444" stroke-width="1.3"/><path d="M795 4 H801.4 M802.8 8.2 L805.6 12" stroke="#444" stroke-width="1.3" fill="none"/>
<circle cx="845.3" cy="3.3" r="6.3" fill="none" stroke="#444" stroke-width="1.3"/><path d="M842 4 H848.6 M845.3 0.8 V7.2 M849.9 8.2 L852.8 12" stroke="#444" stroke-width="1.3" fill="none"/>
</svg>
<div class="t" style="left:752px;width:20px;text-align:left;font-weight:bold;font-family:'Liberation Sans',sans-serif;font-size:13px;top:-3px;color:#3a3f48"><span style="font-size:15.5px;position:relative;top:-2.3px;">&#402;</span><span style="position:relative;left:0.5px;top:-0.5px">x</span></div>
</div>
<div class="side" style="top:19px;height:51px;padding-top:8px;box-sizing:border-box;line-height:14.2px"><span>分</span><span>时</span><span>图</span></div>
<div class="side" style="top:70px;height:46px;padding-top:4.2px;box-sizing:border-box;background:#ff6a00;color:#fff;line-height:14.3px;overflow:hidden"><span style="font-size:11px">K</span><span>线</span><span>图</span></div>
<div class="side" style="top:116px;height:53px;padding-top:10px;box-sizing:border-box;border-bottom:1px solid #cfd6df"><span>闪</span><span>电</span><span>图</span></div>
<div class="side" style="top:169px;height:63px;padding-top:8.2px;box-sizing:border-box"><span>合</span><span>约</span><span>资</span><span>料</span></div>
<div class="info" style="left:91px;color:#000">美元日元</div>
<div class="info" style="left:138px;color:#ff7a00">【日线】</div>
<svg class="abs" style="left:186px;top:25px" width="12" height="12" viewBox="0 0 12 12"><circle cx="5.6" cy="5.6" r="4.1" fill="none" stroke="#ff8a1c" stroke-width="1"/><path d="M1.5 5.6H9.7M5.6 1.5V9.7" stroke="#ff8a1c" stroke-width="1"/></svg>
<svg class="abs" style="left:204px;top:20px" width="14" height="15" viewBox="0 0 14 15"><path d="M12.7 1.5V13.7H1.5" fill="none" stroke="#555" stroke-width="1"/><rect x="0.7" y="0.5" width="11" height="12.2" fill="#fff" stroke="#000080" stroke-width="1.1"/><path d="M1.2 7.6 L4.4 3.5 L7.3 6.6 L9 5 L11.2 4.6" fill="none" stroke="#f00" stroke-width="1"/><path d="M1.2 10.7 L4.4 6.6 L7.5 9.7 L9 8 L11.2 7.6" fill="none" stroke="#00f" stroke-width="1"/></svg>
<div class="info ls" style="left:219px;color:#000">MA1(50,0,200,0)</div>
<div class="info ls" style="left:316px;color:#000">MA50:156.311</div>
<div class="info ls" style="left:406px;color:#00008b">MA0:156.558</div>
<div class="info ls" style="left:489px;color:#ff00ff">MA200:150.274</div>
<div class="info ls" style="left:587px;color:#ff7a00">MA0:156.558</div>
<div class="yl" style="top:33px">161.518</div>
<div class="yl" style="top:89px">159.630</div>
<div class="yl" style="top:146px">157.743</div>
<div class="yl" style="top:203px">155.855</div>
<div class="yl" style="top:259px">153.967</div>
<div class="yl" style="top:316px">152.079</div>
<div class="yl" style="top:373px">150.191</div>
<div class="yl" style="top:430px">148.303</div>
<div class="yl" style="top:486px">146.415</div>
<div class="yl" style="top:543px">144.527</div>
<div class="yl" style="top:600px">142.639</div>
<div class="yl" style="top:679px">0.865</div>
<div class="yl" style="top:702px">0.663</div>
<div class="yl" style="top:726px">0.461</div>
<div class="yl" style="top:749px">0.259</div>
<div class="yl" style="top:772px">0.057</div>
<div class="yl" style="top:796px">-0.145</div>
<div class="yl" style="top:819px">-0.347</div>
<div class="yl" style="top:842px">-0.549</div>
<div class="yl" style="top:866px">-0.751</div>
<div class="yl" style="top:889px">-0.953</div>
<div class="abs" style="left:619.5px;top:89px;font-weight:bold;font-size:12px;line-height:14px;letter-spacing:0.15px;color:#d6402f">159.439</div>
<div class="abs" style="left:691.3px;top:324.6px;font-weight:bold;font-size:12px;line-height:14px;letter-spacing:0.1px;color:#67a657">152.091</div>
<div class="info" style="left:92px;top:667px;color:#000;letter-spacing:0.05px">MACD(13,8,9) DIFF:0.099</div>
<div class="info ls" style="left:241px;top:667px;color:#00008b">DEA:-0.147</div>
<div class="info ls" style="left:312px;top:667px;color:#ff00ff">MACD:0.493</div>
<div class="abs" style="left:19px;top:920px;width:852px;height:1px;background:#e3e9f0"></div>
<div class="abs" style="left:215px;top:921px;width:1px;height:5px;background:#c8d2dc"></div>
<div class="dt" style="left:216.5px;">2025/11</div>
<div class="abs" style="left:375px;top:921px;width:1px;height:5px;background:#c8d2dc"></div>
<div class="dt" style="left:376.5px;">2025/12</div>
<div class="abs" style="left:551px;top:921px;width:1px;height:5px;background:#c8d2dc"></div>
<div class="dt" style="left:552.5px;">2026/01</div>
<div class="abs" style="left:719px;top:921px;width:1px;height:5px;background:#c8d2dc"></div>
<div class="dt" style="left:720.5px;">2026/02</div>
<div class="abs" style="left:19px;top:920px;width:70px;height:21px;border:1px solid #c5cfda;box-sizing:border-box;background:#fff;color:#ff7a00;font-weight:bold;font-size:12px;line-height:20px;padding-left:14px">日线<span style="font-size:14px;position:relative;left:2.7px;top:-1px;font-weight:normal">▲</span></div>
<div class="abs" style="left:19px;top:940px;width:852px;height:1px;background:#c5cfda"></div>
<div class="abs" style="left:0px;top:956px;width:871px;height:1px;background:#c5cfda"></div>
<div class="tab" style="left:19px;width:39px;background:#ff6a00;color:#fff;border-right:none;top:940px;height:15px;line-height:20px;">指标</div>
<div class="tab" style="left:58px;width:41px;">模板</div>
<div class="tab" style="left:99px;width:58px;color:#ff7a00;"><span style="font-size:12px;letter-spacing:-1.2px;position:relative;top:-0.5px">VIP</span>指标</div>
<div class="tab l" style="left:157px;width:28px;">MA</div>
<div class="tab l" style="left:185px;width:40px;">MACD</div>
<div class="tab l" style="left:225px;width:40px;">BOLL</div>
<div class="tab l" style="left:265px;width:34px;">VOL</div>
<div class="tab l" style="left:299px;width:42px;">BIAS</div>
<div class="tab l" style="left:341px;width:31px;">CCI</div>
<div class="tab l" style="left:372px;width:34px;">KDJ</div>
<div class="tab l" style="left:406px;width:40px;">LW&amp;</div>
<div class="tab l" style="left:446px;width:34px;">RSI</div>
<div class="tab l" style="left:480px;width:29px;">CR</div>
<div class="tab l" style="left:509px;width:33px;">PSY</div>
<div class="tab" style="left:542px;width:40px;">设置</div>
<div class="abs" style="left:741.5px;top:912.4px;font-size:31px;line-height:36px;letter-spacing:2.2px;color:#d8e5f6;-webkit-text-stroke:0.3px #d8e5f6;text-shadow:1px 1px 0 rgba(176,140,112,0.75)">FX678</div>
<div class="abs" style="left:741px;top:959px;width:130px;height:6px;background:#b3b3b6"></div>
<svg class="abs" style="left:819px;top:959px" width="24" height="6" viewBox="0 0 24 6"><path d="M0.7 4.9 L8.5 0.1 L15.8 0.1 L23.3 4.9 Z" fill="#68686c"/></svg>
</body></html>
